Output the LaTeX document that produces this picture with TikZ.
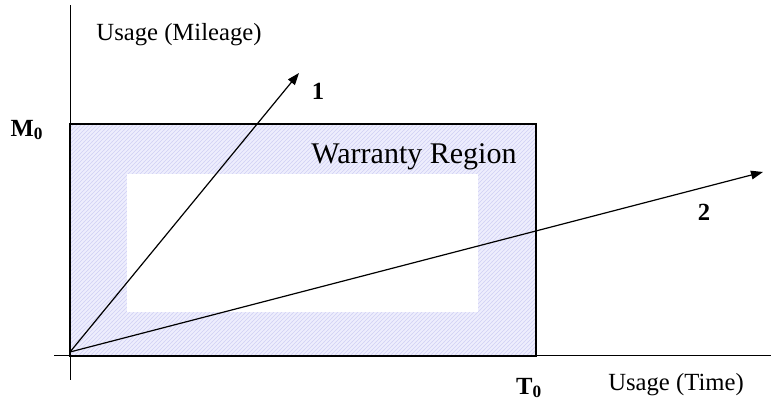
\documentclass[tikz,border=0pt]{standalone}
\usepackage{fontspec}
\setmainfont{Liberation Serif}
\usepackage{xcolor}
\usetikzlibrary{patterns,arrows.meta}

\definecolor{regionfill}{RGB}{238,238,253}
\definecolor{regionhatch}{RGB}{208,208,244}

\begin{document}
\begin{tikzpicture}[x=0.75pt,y=0.75pt,line width=0.75pt,
  every node/.style={font=\fontsize{18.5pt}{21pt}\selectfont,inner sep=0.8pt},
  casetag/.style={font=\fontsize{18.5pt}{21pt}\selectfont\bfseries},
  usagearrow/.style={line width=0.9pt,-{Triangle[length=9pt,width=6.5pt]}}]
  \useasboundingbox (0,0) rectangle (771,402);
  % corners of the region
  \coordinate (O) at (70,46);
  \coordinate (R) at (536,278);
  \coordinate (O') at (70,50);
  \coordinate (P1) at (299,329);
  \coordinate (P2) at (763,230);
  \fill[regionfill] (O) rectangle (R);
  \fill[pattern=north east lines,pattern color=regionhatch] (O) rectangle (R);
  \fill[white] (127,90) rectangle (478,228);
  % axes
  \draw (70,22) -- (70,397);
  \draw (54,46) -- (771,46);
  \draw[line width=1.6pt] (O) rectangle (R);
  \draw[usagearrow] (O') -- (P1);
  \draw[usagearrow] (O') -- (P2);
  \node (region) at (414,245) {\fontsize{22.5pt}{26pt}\selectfont Warranty Region};
  \node (ylabel) at (179,367) {Usage (Mileage)};
  \node (xlabel) at (676,17) {Usage (Time)};
  \node[casetag] (M0) at (27,272) {M\textsubscript{0}};
  \node[casetag] (T0) at (529,14) {T\textsubscript{0}};
  \node[casetag] (tag1) at (318,311) {1};
  \node[casetag] (tag2) at (704,190) {2};
\end{tikzpicture}
\end{document}
